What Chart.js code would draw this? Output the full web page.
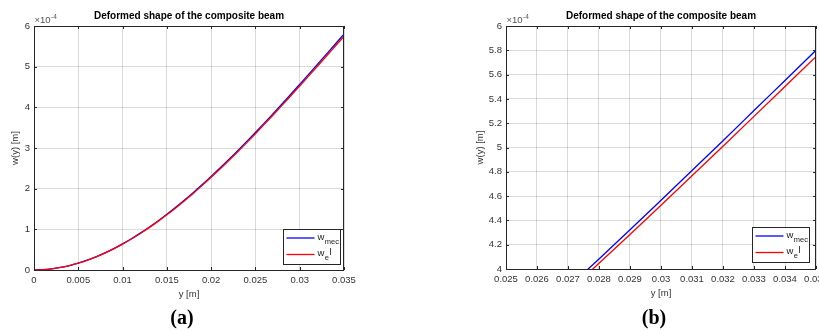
<!DOCTYPE html>
<html>
<head>
<meta charset="utf-8">
<script src="https://cdn.jsdelivr.net/npm/chart.js@4.4.1/dist/chart.umd.min.js"></script>
<style>
  html, body { margin: 0; padding: 0; background: #fff; }
  #wrap { position: relative; width: 819px; height: 331px; overflow: hidden; background: #fff; }
  canvas { position: absolute; top: 0; }
  .cap { position: absolute; top: 306px; transform: translateX(-50%);
         font-family: "Liberation Serif", "DejaVu Serif", serif; font-weight: bold;
         font-size: 20px; color: #000; white-space: nowrap; }
</style>
</head>
<body>
<div id="wrap">
  <canvas id="ca" width="410" height="331" style="left:0"></canvas>
  <canvas id="cb" width="409" height="331" style="left:410px"></canvas>
  <div class="cap" style="left:182px">(a)</div>
  <div class="cap" style="left:654px">(b)</div>
</div>
<script>
// Position along the beam [m]
const yPos = [0, 0.001, 0.002, 0.003, 0.004, 0.005, 0.006, 0.007, 0.008, 0.009,
              0.010, 0.011, 0.012, 0.013, 0.014, 0.015, 0.016, 0.017, 0.018, 0.019,
              0.020, 0.021, 0.022, 0.023, 0.024, 0.025, 0.026, 0.027, 0.028, 0.029,
              0.030, 0.031, 0.032, 0.033, 0.034, 0.035];
// Deflection, mechanical model [x 1e-4 m]
const wMec = [0, 0.007, 0.028, 0.062, 0.109, 0.169, 0.241, 0.325, 0.420, 0.526,
              0.643, 0.769, 0.906, 1.052, 1.206, 1.370, 1.541, 1.720, 1.907, 2.100,
              2.300, 2.506, 2.717, 2.934, 3.156, 3.382, 3.612, 3.846, 4.083, 4.323,
              4.566, 4.810, 5.056, 5.304, 5.552, 5.800];
// Deflection, electrical model [x 1e-4 m]
const wEl = [0, 0.007, 0.028, 0.062, 0.108, 0.168, 0.239, 0.322, 0.416, 0.521,
             0.637, 0.762, 0.898, 1.042, 1.196, 1.357, 1.527, 1.705, 1.889, 2.081,
             2.279, 2.483, 2.693, 2.908, 3.127, 3.352, 3.580, 3.812, 4.047, 4.284,
             4.525, 4.767, 5.011, 5.256, 5.502, 5.748];

// Tick values of the full view (a) and the zoomed view (b)
const xTicksA = [0, 0.005, 0.01, 0.015, 0.02, 0.025, 0.03, 0.035];
const yTicksA = [0, 1, 2, 3, 4, 5, 6];
const xTicksB = [0.025, 0.026, 0.027, 0.028, 0.029, 0.03, 0.031, 0.032, 0.033, 0.034, 0.035];
const yTicksB = [4, 4.2, 4.4, 4.6, 4.8, 5, 5.2, 5.4, 5.6, 5.8, 6];

const titleText = 'Deformed shape of the composite beam';
const xTitle = 'y [m]';
const yTitle = 'w(y) [m]';
const seriesNames = ['w_mec', 'w_el'];

const SANS = '"Liberation Sans", Arial, Helvetica, sans-serif';
const AXIS = '#262626';
const TICKTXT = '#333333';
const GRID = 'rgba(38,38,38,0.17)';

function fmt(v) { return String(+(+v).toFixed(4)); }

// Axes box, inward tick marks, exponent, title and legend
const framePlugin = {
  id: 'frame',
  afterDatasetsDraw(chart, args, opts) {
    const ctx = chart.ctx;
    const a = chart.chartArea;
    const xs = chart.scales.x, ys = chart.scales.y;
    ctx.save();
    ctx.strokeStyle = AXIS;
    ctx.lineWidth = 1;
    // inward tick marks on all four sides
    ctx.beginPath();
    const tl = 3;
    xs.ticks.forEach(t => {
      const px = Math.round(xs.getPixelForValue(t.value)) + 0.5;
      ctx.moveTo(px, a.bottom); ctx.lineTo(px, a.bottom - tl);
      ctx.moveTo(px, a.top); ctx.lineTo(px, a.top + tl);
    });
    ys.ticks.forEach(t => {
      const py = Math.round(ys.getPixelForValue(t.value)) + 0.5;
      ctx.moveTo(a.left, py); ctx.lineTo(a.left + tl, py);
      ctx.moveTo(a.right, py); ctx.lineTo(a.right - tl, py);
    });
    ctx.stroke();
    // box
    ctx.strokeRect(Math.round(a.left) + 0.5, Math.round(a.top) + 0.5,
                   Math.round(a.right - a.left) - 1, Math.round(a.bottom - a.top));

    // exponent label
    ctx.fillStyle = '#555';
    ctx.textBaseline = 'alphabetic';
    ctx.textAlign = 'left';
    ctx.font = '9.5px ' + SANS;
    const ex = a.left + 0.5, ey = a.top - 3;
    ctx.fillText('\u00d710', ex, ey);
    const w10 = ctx.measureText('\u00d710').width;
    ctx.font = '6.5px ' + SANS;
    ctx.fillText('-4', ex + w10 + 0.5, ey - 4);

    // title
    ctx.fillStyle = '#000';
    ctx.font = 'bold 10px ' + SANS;
    ctx.textAlign = 'center';
    ctx.textBaseline = 'middle';
    ctx.fillText(titleText, (a.left + a.right) / 2, 16.5);

    // legend
    const bw = 57, bh = 35;
    const bx = Math.round(a.right - opts.legRight - bw) + 0.5;
    const by = Math.round(a.bottom - opts.legBottom - bh) + 0.5;
    ctx.fillStyle = '#fff';
    ctx.fillRect(bx, by, bw, bh);
    ctx.strokeStyle = AXIS;
    ctx.lineWidth = 1;
    ctx.strokeRect(bx, by, bw, bh);
    const ds = chart.data.datasets;
    const rows = [by + 8.5, by + 25];
    ds.forEach((d, i) => {
      const ly = rows[i];
      ctx.strokeStyle = d.borderColor;
      ctx.lineWidth = 1.3;
      ctx.beginPath();
      ctx.moveTo(bx + 3, ly); ctx.lineTo(bx + 31, ly);
      ctx.stroke();
      const parts = d.label.split('_');
      ctx.fillStyle = '#222';
      ctx.textAlign = 'left';
      ctx.textBaseline = 'alphabetic';
      ctx.font = '9.5px ' + SANS;
      const tx = bx + 34;
      ctx.fillText(parts[0], tx, ly + 1.5);
      const ww = ctx.measureText(parts[0]).width;
      ctx.font = '7.5px ' + SANS;
      if (i === 0) {
        ctx.fillText(parts[1], tx + ww + 0.5, ly + 5.5);
      } else {
        ctx.fillText(parts[1][0], tx + ww + 0.5, ly + 5.5);
        const we = ctx.measureText(parts[1][0]).width;
        ctx.font = '9.5px ' + SANS;
        ctx.fillText(parts[1].slice(1), tx + ww + we + 1, ly + 0.5);
      }
    });
    ctx.restore();
  }
};

function makeChart(id, cfg) {
  const pts = (arr) => yPos.map((x, i) => ({ x: x, y: arr[i] }));
  return new Chart(document.getElementById(id), {
    type: 'line',
    data: {
      datasets: [
        { label: seriesNames[0], data: pts(wMec), borderColor: '#0000ff', borderWidth: 1.3,
          pointRadius: 0, cubicInterpolationMode: 'monotone', fill: false, order: 1 },
        { label: seriesNames[1], data: pts(wEl), borderColor: '#ff0000', borderWidth: 1.3,
          pointRadius: 0, cubicInterpolationMode: 'monotone', fill: false, order: 0 }
      ]
    },
    options: {
      responsive: false,
      devicePixelRatio: 1,
      animation: false,
      layout: { padding: cfg.pad },
      plugins: {
        legend: { display: false },
        tooltip: { enabled: false },
        title: { display: false },
        frame: { legRight: cfg.legRight, legBottom: cfg.legBottom }
      },
      scales: {
        x: {
          type: 'linear',
          min: cfg.xTicks[0], max: cfg.xTicks[cfg.xTicks.length - 1],
          afterBuildTicks: s => { s.ticks = cfg.xTicks.map(v => ({ value: v })); },
          afterFit: s => { s.height = 34; s.paddingLeft = 0; s.paddingRight = 0; },
          ticks: { autoSkip: false, maxRotation: 0, minRotation: 0, padding: 5,
                   color: TICKTXT, font: { family: SANS, size: 9.5 }, callback: fmt },
          grid: { color: GRID, lineWidth: 1, drawTicks: false },
          border: { display: false },
          title: { display: true, text: xTitle, color: TICKTXT,
                   font: { family: SANS, size: 9.5 }, padding: { top: 0, bottom: 4 } }
        },
        y: {
          type: 'linear',
          min: cfg.yTicks[0], max: cfg.yTicks[cfg.yTicks.length - 1],
          afterBuildTicks: s => { s.ticks = cfg.yTicks.map(v => ({ value: v })); },
          afterFit: s => { s.width = cfg.yW; s.paddingTop = 0; s.paddingBottom = 0; },
          ticks: { autoSkip: false, padding: 4, color: TICKTXT,
                   font: { family: SANS, size: 9.5 }, callback: fmt },
          grid: { color: GRID, lineWidth: 1, drawTicks: false },
          border: { display: false },
          title: { display: true, text: yTitle, color: TICKTXT,
                   font: { family: SANS, size: 9.5 }, padding: { top: 0, bottom: 0 } }
        }
      }
    },
    plugins: [framePlugin]
  });
}

makeChart('ca', { xTicks: xTicksA, yTicks: yTicksA, yW: 24,
                  pad: { left: 10, top: 26, right: 66, bottom: 27 },
                  legRight: 4, legBottom: 6 });
makeChart('cb', { xTicks: xTicksB, yTicks: yTicksB, yW: 31,
                  pad: { left: 65, top: 26, right: 3, bottom: 28 },
                  legRight: 7, legBottom: 7 });
</script>
</body>
</html>
